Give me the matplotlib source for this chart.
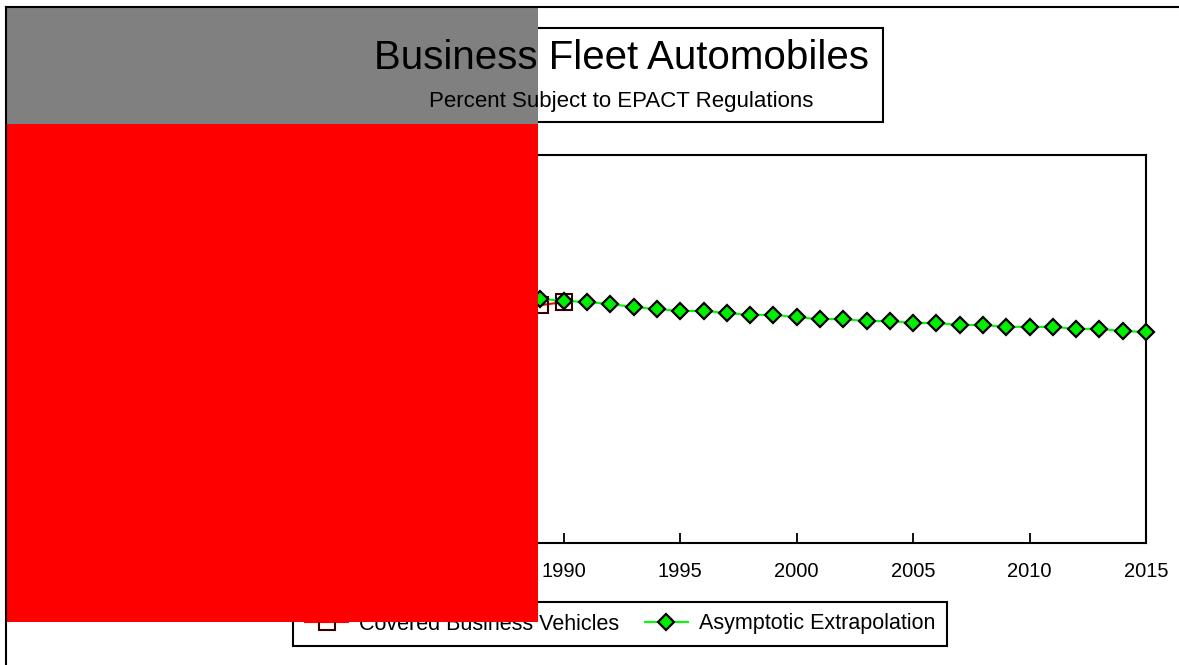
import numpy as np
import matplotlib.pyplot as plt
from matplotlib.patches import Rectangle
from matplotlib.lines import Line2D

plt.rcParams['font.family'] = ['Liberation Sans', 'DejaVu Sans']

# Percent of business fleet automobiles subject to EPACT
covered_years = [1988, 1989, 1990]
covered_pct = [61.1, 61.3, 62.1]

extrap_years = list(range(1989, 2016))
extrap_pct = [62.9, 62.4, 62.1, 61.6, 60.8, 60.3, 59.8, 59.8, 59.3, 58.8, 58.8,
              58.2, 57.7, 57.7, 57.2, 57.2, 56.7, 56.7, 56.2, 56.2, 55.7, 55.7,
              55.7, 55.2, 55.2, 54.6, 54.4]

W, H = 1179, 665
fig = plt.figure(figsize=(W / 100, H / 100), dpi=100)

def fx(px):
    return px / W

def fy(py):
    return 1 - py / H

ax = fig.add_axes([fx(98), fy(543), fx(1146) - fx(98), fy(155) - fy(543)])
ax.plot(covered_years, covered_pct, color='red', lw=1.5, marker='s', ms=11,
        mfc='none', mec='#3a0000', mew=1.5, label='Covered Business Vehicles', zorder=2)
ax.plot(extrap_years, extrap_pct, color='#00ff00', lw=1.5, marker='D', ms=8.5,
        mfc='#00ee00', mec='black', mew=1.6, label='Asymptotic Extrapolation',
        zorder=3, clip_on=False)
ax.set_xlim(1970, 2015)
ax.set_ylim(0, 100)
ax.set_xticks(range(1970, 2016, 5))
ax.tick_params(axis='x', direction='in', length=7, width=1.3, labelsize=14.5, pad=14)
ax.tick_params(axis='y', direction='in', length=7, width=1.3, labelsize=14.5)
for sp in ax.spines.values():
    sp.set_linewidth(1.5)

# title box
fig.add_artist(Rectangle((fx(359), fy(122)), fx(883) - fx(359), fy(28) - fy(122),
                         transform=fig.transFigure, fill=False, ec='black', lw=1.5, zorder=1))
fig.text(fx(621), fy(58), 'Business Fleet Automobiles', ha='center', va='center',
         fontsize=29, zorder=8)
fig.text(fx(621), fy(101), 'Percent Subject to EPACT Regulations', ha='center', va='center',
         fontsize=16, zorder=8)

handles, labels = ax.get_legend_handles_labels()
leg = fig.legend(handles, labels, loc='center', bbox_to_anchor=(fx(620), fy(624)),
                 ncol=2, fontsize=15.5, fancybox=False, framealpha=1, edgecolor='black',
                 handlelength=2.0, columnspacing=1.2, borderpad=0.55, handletextpad=0.5)
leg.get_frame().set_linewidth(1.5)
leg.set_zorder(5)

# blocks drawn over the chart
fig.add_artist(Rectangle((fx(7), fy(124)), fx(538) - fx(7), fy(8) - fy(124),
                         transform=fig.transFigure, fc='#808080', ec='none', zorder=7))
fig.add_artist(Rectangle((fx(7), fy(622)), fx(538) - fx(7), fy(124) - fy(622),
                         transform=fig.transFigure, fc='#ff0000', ec='none', zorder=7))

# outer frame
fig.add_artist(Line2D([fx(6), 1], [fy(7), fy(7)], transform=fig.transFigure,
                      color='black', lw=1.5, zorder=9))
fig.add_artist(Line2D([fx(6), fx(6)], [fy(7), 0], transform=fig.transFigure,
                      color='black', lw=1.5, zorder=9))

fig.savefig('out.png', dpi=100)
